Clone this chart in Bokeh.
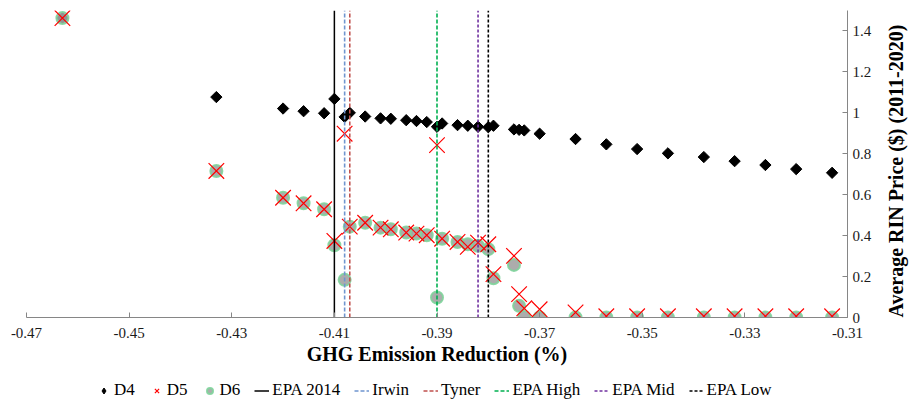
import math
from bokeh.plotting import figure
from bokeh.layouts import column
from bokeh.models import (ColumnDataSource, Range1d, FixedTicker,
                          Legend, LegendItem, PrintfTickFormatter)
from bokeh.embed import file_html
from bokeh.resources import INLINE

# ---- data ----
ghg = [-0.463, -0.433, -0.420, -0.416, -0.412, -0.410, -0.408, -0.407, -0.404,
       -0.401, -0.399, -0.396, -0.394, -0.392, -0.390, -0.389, -0.386, -0.384,
       -0.382, -0.380, -0.379, -0.375, -0.374, -0.373, -0.370, -0.363, -0.357,
       -0.351, -0.345, -0.338, -0.332, -0.326, -0.320, -0.313]
d4 = [1.463, 1.077, 1.021, 1.008, 0.998, 1.068, 0.980, 1.000, 0.982, 0.973,
      0.971, 0.964, 0.960, 0.955, 0.932, 0.948, 0.940, 0.937, 0.932, 0.930,
      0.937, 0.919, 0.917, 0.914, 0.898, 0.872, 0.846, 0.823, 0.802, 0.784,
      0.764, 0.745, 0.725, 0.707]
d5 = [1.463, 0.716, 0.585, 0.558, 0.529, 0.374, 0.898, 0.444, 0.463, 0.439,
      0.431, 0.415, 0.410, 0.402, 0.842, 0.385, 0.369, 0.345, 0.366, 0.358,
      0.212, 0.301, 0.114, 0.045, 0.040, 0.025, 0.006, 0.006, 0.006, 0.006,
      0.006, 0.006, 0.006, 0.006]
d6 = [1.463, 0.716, 0.585, 0.558, 0.529, 0.353, 0.184, 0.444, 0.463, 0.439,
      0.431, 0.415, 0.410, 0.402, 0.098, 0.385, 0.369, 0.358, 0.350, 0.334,
      0.192, 0.257, 0.057, 0.003, 0.0, 0.0, 0.0, 0.0, 0.0, 0.0,
      0.0, 0.0, 0.0, 0.0]

ref_names = ["EPA 2014", "Irwin", "Tyner", "EPA High", "EPA Mid", "EPA Low"]
ref_values = [-0.410, -0.408, -0.407, -0.390, -0.382, -0.380]
ref_colors = ["#000000", "#6f95cf", "#c0504d", "#00b050", "#7030a0", "#000000"]
ref_dash = ["solid", "4 2", "4 2", "4 2", "3 2", "3 2"]

x_ticks = [-0.47, -0.45, -0.43, -0.41, -0.39, -0.37, -0.35, -0.33, -0.31]
y_ticks = [0, 0.2, 0.4, 0.6, 0.8, 1.0, 1.2, 1.4]
y_tick_labels = ["0", "0.2", "0.4", "0.6", "0.8", "1", "1.2", "1.4"]

x_min, x_max = -0.47, -0.31
y_min, y_max = 0.0, 1.5

FONT = "Liberation Serif"

# styles
D4_STYLE = dict(marker="square", angle=math.pi / 4, size=8,
                fill_color="black", line_color="black")
D4_LEGEND_STYLE = dict(marker="diamond", size=12,
                       fill_color="black", line_color="black")
D6_STYLE = dict(marker="circle", size=12, fill_color="#a3a3a3", fill_alpha=0.9,
                line_color="#7fd39b", line_width=2, line_alpha=0.9)
D5_STYLE = dict(marker="x", size=22, line_color="#ff0000", line_width=1.2)


def ref_line_style(c, d):
    return dict(line_color=c, line_dash=d,
                line_width=1.5 if d == "solid" else 1.6)


p = figure(frame_width=821, frame_height=307, output_backend="svg",
           toolbar_location=None,
           x_range=Range1d(x_min, x_max), y_range=Range1d(y_min, y_max),
           y_axis_location="right",
           min_border_left=26, min_border_top=10, min_border_right=62,
           min_border_bottom=63)
p.outline_line_color = None
p.grid.visible = False

src = ColumnDataSource(dict(x=ghg, d4=d4, d5=d5, d6=d6))

p.scatter("x", "d4", source=src, **D4_STYLE)
p.scatter("x", "d6", source=src, **D6_STYLE)
p.scatter("x", "d5", source=src, **D5_STYLE)

for v, c, d in zip(ref_values, ref_colors, ref_dash):
    p.line([v, v], [y_min, y_max], **ref_line_style(c, d))

# axes
xa = p.xaxis[0]
xa.ticker = FixedTicker(ticks=x_ticks)
xa.formatter = PrintfTickFormatter(format="%.2f")
xa.axis_label = "GHG Emission Reduction (%)"
ya = p.yaxis[0]
ya.ticker = FixedTicker(ticks=y_ticks)
ya.major_label_overrides = {t: l for t, l in zip(y_ticks, y_tick_labels)}
ya.axis_label = "Average RIN Price ($) (2011-2020)"
ya.axis_label_orientation = math.pi / 2
ya.axis_label_align = "start"

for ax in (xa, ya):
    ax.axis_line_color = "#868686"
    ax.major_tick_line_color = "#868686"
    ax.major_tick_in = 5
    ax.major_tick_out = 0
    ax.minor_tick_line_color = None
    ax.major_label_text_font = FONT
    ax.major_label_text_font_size = "15px"
    ax.major_label_text_color = "#1a1a1a"
    ax.axis_label_text_font = FONT
    ax.axis_label_text_font_style = "bold"
    ax.axis_label_text_font_size = "20px"
    ax.axis_label_text_color = "black"
xa.major_label_standoff = 10
xa.axis_label_standoff = 2
ya.major_label_standoff = 5
ya.axis_label_standoff = 22

# legend strip below the chart (same data, drawn outside this strip's ranges)
lf = figure(width=909, height=20, output_backend="svg", toolbar_location=None,
            x_range=Range1d(0, 1), y_range=Range1d(0, 1),
            x_axis_location=None, y_axis_location=None,
            min_border=0)
lf.outline_line_color = None
lf.grid.visible = False

lr4 = lf.scatter("x", "d4", source=src, **D4_LEGEND_STYLE)
lr5 = lf.scatter("x", "d5", source=src, **D5_STYLE)
lr6 = lf.scatter("x", "d6", source=src, **D6_STYLE)
items = [LegendItem(label="D4", renderers=[lr4]),
         LegendItem(label="D5", renderers=[lr5]),
         LegendItem(label="D6", renderers=[lr6])]
for name, v, c, d in zip(ref_names, ref_values, ref_colors, ref_dash):
    r = lf.line([v, v], [y_min, y_max], **ref_line_style(c, d))
    items.append(LegendItem(label=name, renderers=[r]))

legend = Legend(items=items, orientation="horizontal", location=(70, 0),
                border_line_color=None, background_fill_alpha=0,
                label_text_font=FONT, label_text_font_size="17px",
                label_text_color="black",
                glyph_width=15, glyph_height=15, label_standoff=3,
                spacing=14, padding=2, margin=0)
lf.add_layout(legend, "center")

layout = column(p, lf, spacing=0)
open("out.html", "w").write(file_html(layout, INLINE))
